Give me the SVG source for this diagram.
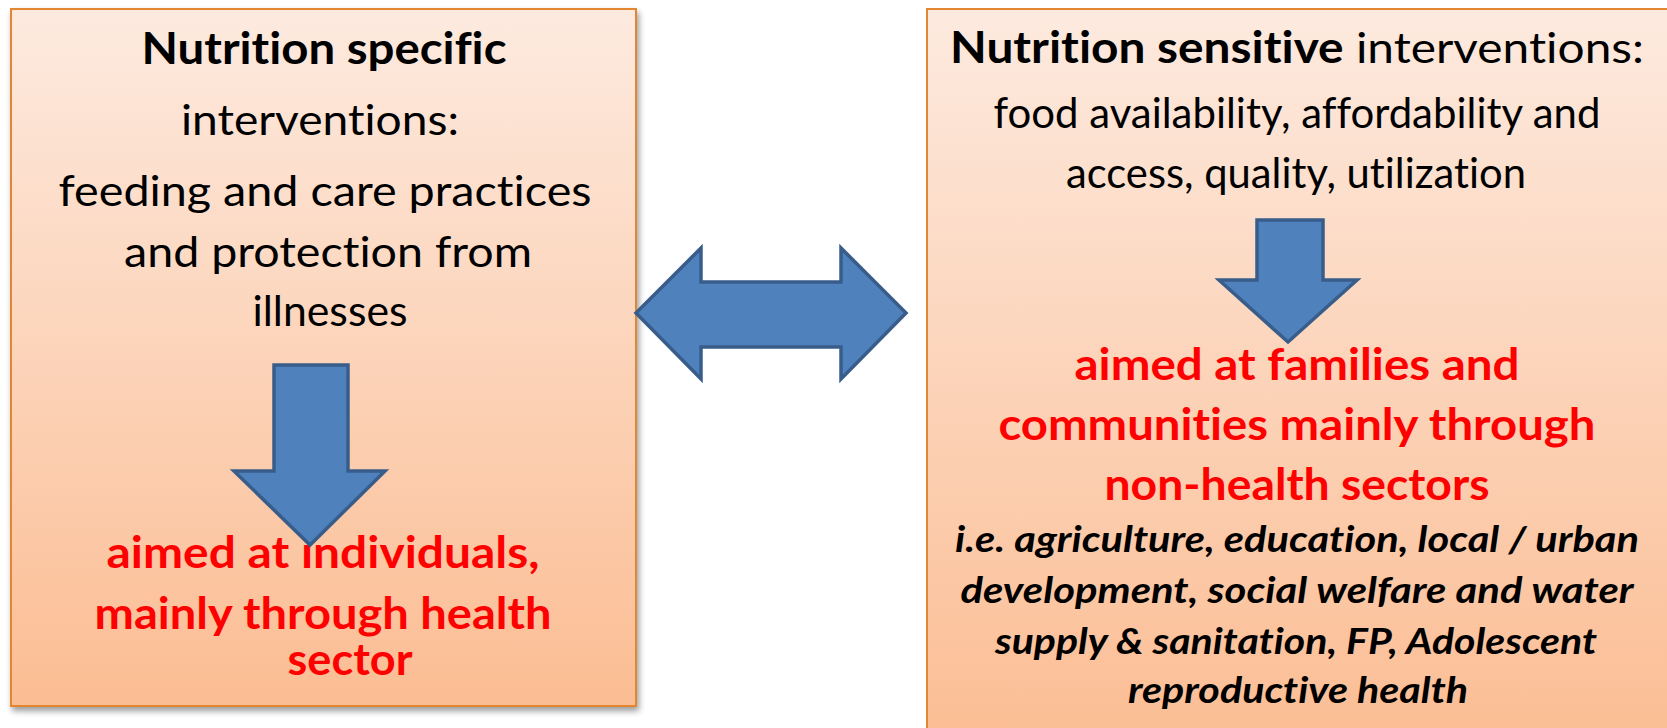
<svg xmlns="http://www.w3.org/2000/svg" width="1667" height="728" viewBox="0 0 1667 728">
<defs>
<linearGradient id="peach" x1="0" y1="0" x2="0" y2="1">
<stop offset="0" stop-color="#fdeadf"/>
<stop offset="1" stop-color="#fbbd93"/>
</linearGradient>
<filter id="shadow" x="-5%" y="-5%" width="110%" height="110%">
<feGaussianBlur in="SourceAlpha" stdDeviation="3"/>
<feOffset dx="2" dy="4" result="b"/>
<feComponentTransfer><feFuncA type="linear" slope="0.4"/></feComponentTransfer>
<feMerge><feMergeNode/><feMergeNode in="SourceGraphic"/></feMerge>
</filter>
<style>
.box{fill:url(#peach);stroke:#e38632;stroke-width:2}
.arrow{fill:#4f81bd;stroke:#385d8a;stroke-width:3.5;stroke-linejoin:miter}
text{font-family:Lato,"Liberation Sans",sans-serif;text-anchor:middle;font-variant-ligatures:none;font-feature-settings:"liga" 0,"dlig" 0}
.reg{font-size:43px;fill:#000}
.bold{font-weight:bold}
.red{font-size:43px;font-weight:bold;fill:#ff0000}
.ital{font-size:37px;font-weight:bold;font-style:italic;fill:#000}
</style>
</defs>
<rect width="1667" height="728" fill="#ffffff"/>

<g id="node-specific">
<rect class="box" x="11" y="9" width="625" height="697" filter="url(#shadow)"/>
<text class="reg bold" x="324" y="64" textLength="365" lengthAdjust="spacingAndGlyphs">Nutrition specific</text>
<text class="reg" x="320" y="135" textLength="278" lengthAdjust="spacingAndGlyphs">interventions:</text>
<text class="reg" x="325" y="206" textLength="533" lengthAdjust="spacingAndGlyphs">feeding and care practices</text>
<text class="reg" x="328" y="267" textLength="408" lengthAdjust="spacingAndGlyphs">and protection from</text>
<text class="reg" x="330" y="326" textLength="155" lengthAdjust="spacingAndGlyphs">illnesses</text>
<text class="red" x="323" y="568" textLength="433" lengthAdjust="spacingAndGlyphs">aimed at individuals,</text>
<text class="red" x="323" y="629" textLength="457" lengthAdjust="spacingAndGlyphs">mainly through health</text>
<text class="red" x="350" y="675" textLength="125" lengthAdjust="spacingAndGlyphs">sector</text>
</g>

<g id="node-sensitive">
<rect class="box" x="927" y="9" width="760" height="740"/>
<text class="reg" x="1297" y="63" textLength="694" lengthAdjust="spacingAndGlyphs"><tspan class="bold">Nutrition sensitive</tspan> interventions:</text>
<text class="reg" x="1297" y="128" textLength="607" lengthAdjust="spacingAndGlyphs">food availability, affordability and</text>
<text class="reg" x="1296" y="188" textLength="460" lengthAdjust="spacingAndGlyphs">access, quality, utilization</text>
<text class="red" x="1297" y="380" textLength="445" lengthAdjust="spacingAndGlyphs">aimed at families and</text>
<text class="red" x="1297" y="440" textLength="597" lengthAdjust="spacingAndGlyphs">communities mainly through</text>
<text class="red" x="1297" y="500" textLength="385" lengthAdjust="spacingAndGlyphs">non-health sectors</text>
<text class="ital" x="1297" y="552" textLength="684" lengthAdjust="spacingAndGlyphs">i.e. agriculture, education, local / urban</text>
<text class="ital" x="1297" y="603" textLength="673" lengthAdjust="spacingAndGlyphs">development, social welfare and water</text>
<text class="ital" x="1296" y="654" textLength="602" lengthAdjust="spacingAndGlyphs">supply &amp; sanitation, FP, Adolescent</text>
<text class="ital" x="1298" y="703" textLength="340" lengthAdjust="spacingAndGlyphs">reproductive health</text>
</g>

<g id="connectors">
<path id="arrow-left-down" class="arrow" d="M274,365 H348 V471 H385 L310,545 L234,471 H274 Z"/>
<path id="arrow-right-down" class="arrow" d="M1257,220 H1323 V280 H1357 L1288,342 L1219,280 H1257 Z"/>
<path id="arrow-double" class="arrow" d="M636,313 L701,248 V282 H841 V248 L906,313 L841,379 V347 H701 V379 Z"/>
</g>
</svg>
